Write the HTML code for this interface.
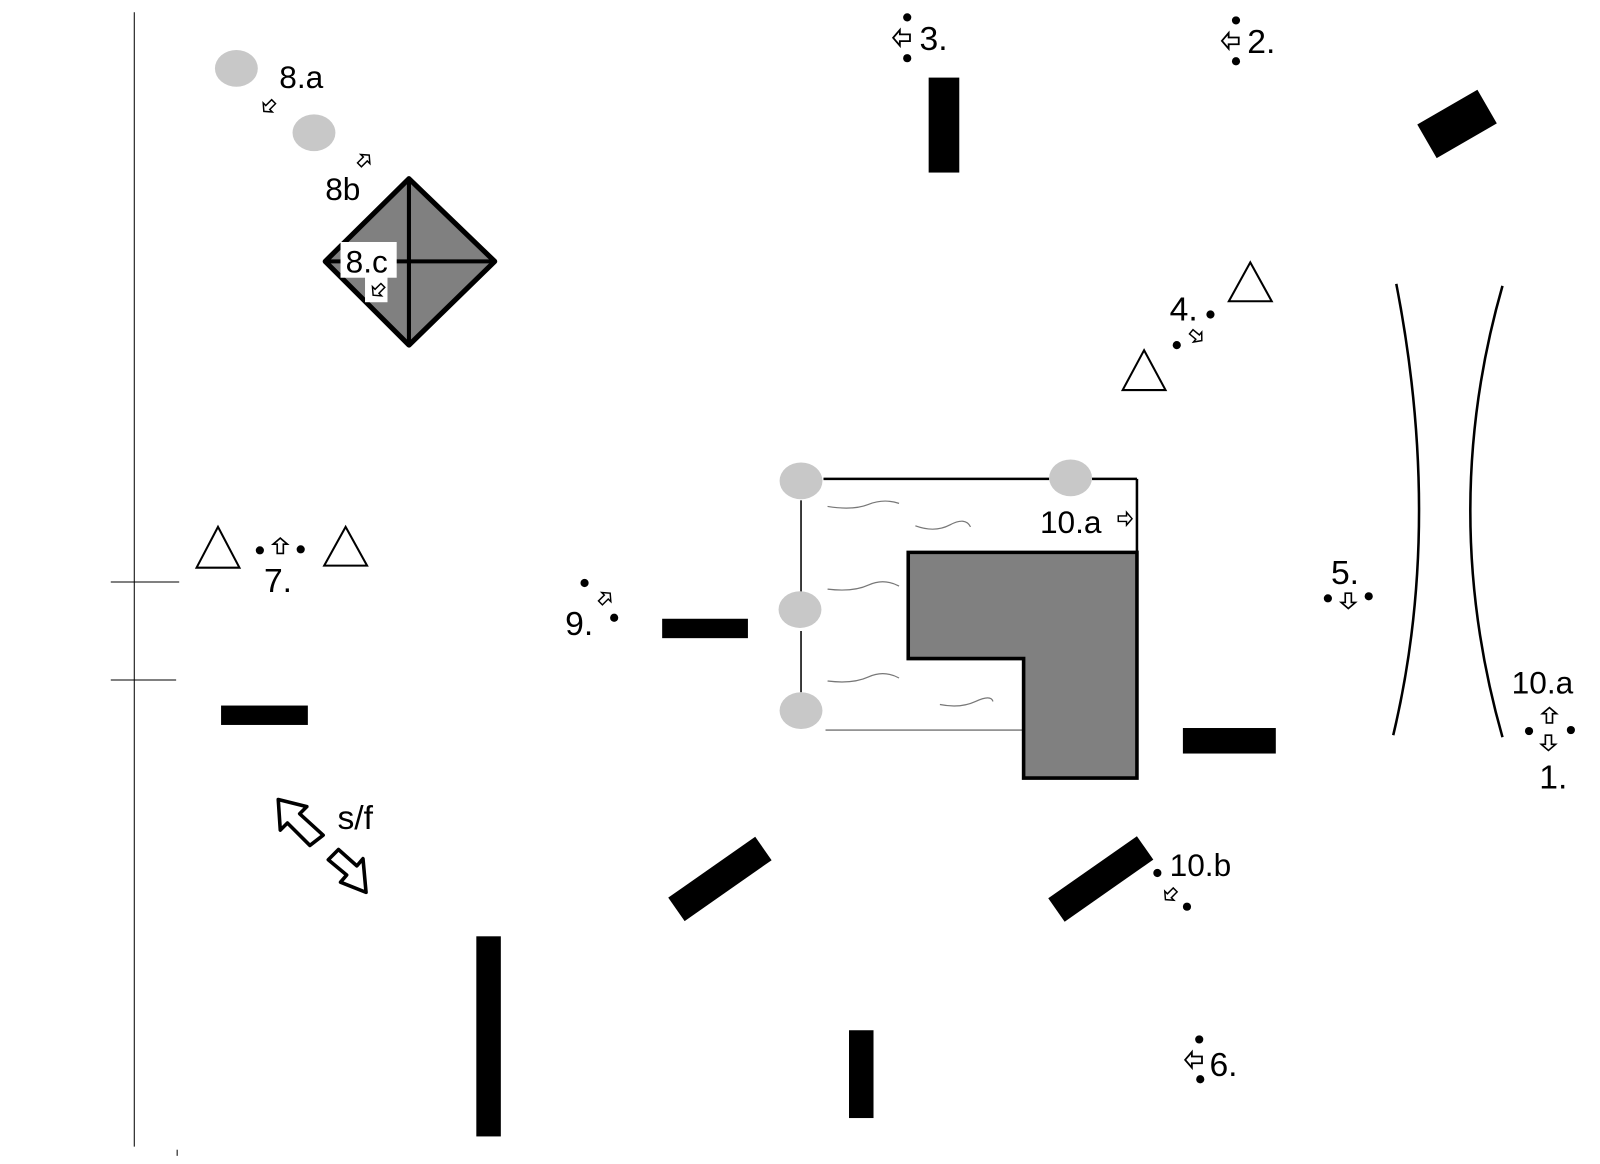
<!DOCTYPE html>
<html><head><meta charset="utf-8"><style>
html,body{margin:0;padding:0;background:#fff;}
svg{display:block;}
text{font-family:"Liberation Sans",sans-serif;fill:#000;}
</style></head><body>
<svg width="1600" height="1164" viewBox="0 0 1566 1140" xmlns="http://www.w3.org/2000/svg">
<defs>
<g id="ar"><path d="M-7,-3 L2,-3 L2,-7 L8,0 L2,7 L2,3 L-7,3 Z" fill="#fff" stroke="#000" stroke-width="1.6"/></g>
</defs>
<rect width="1566" height="1140" fill="#fff"/>
<line x1="131" y1="12" x2="131" y2="1123" stroke="#000" stroke-width="1"/>
<line x1="108" y1="570" x2="175" y2="570" stroke="#000" stroke-width="1"/>
<line x1="108" y1="666" x2="172" y2="666" stroke="#000" stroke-width="1"/>
<line x1="173" y1="1126" x2="173" y2="1132" stroke="#000" stroke-width="1"/>

<ellipse cx="231" cy="67" rx="21" ry="18" fill="#c8c8c8"/>
<ellipse cx="307" cy="130" rx="21" ry="18" fill="#c8c8c8"/>
<text x="273" y="86" font-size="31">8.a</text>
<use href="#ar" transform="translate(263,104) rotate(135) scale(0.9)"/>
<use href="#ar" transform="translate(356,157) rotate(-45) scale(0.9)"/>
<text x="318" y="196" font-size="31">8b</text>
<polygon points="400,175 484,256 400,338 318,256" fill="#808080" stroke="#000" stroke-width="5" stroke-linejoin="round"/>
<line x1="400" y1="175" x2="400" y2="338" stroke="#000" stroke-width="4"/>
<line x1="318" y1="256" x2="484" y2="256" stroke="#000" stroke-width="4"/>
<rect x="333" y="237" width="55" height="35" fill="#fff"/>
<rect x="357" y="270" width="22" height="26" fill="#fff"/>
<text x="338" y="267" font-size="31">8.c</text>
<use href="#ar" transform="translate(370,284) rotate(135) scale(0.9)"/>

<circle cx="888" cy="17" r="4"/><circle cx="888" cy="57" r="4"/>
<use href="#ar" transform="translate(883,37) rotate(180) scale(1.1)"/>
<text x="900" y="49" font-size="33">3.</text>
<circle cx="1210" cy="20" r="4"/><circle cx="1210" cy="60" r="4"/>
<use href="#ar" transform="translate(1205,40) rotate(180) scale(1.1)"/>
<text x="1221" y="52" font-size="33">2.</text>
<rect x="909" y="76" width="30" height="93" fill="#000"/>
<rect x="1394" y="102" width="68" height="38" fill="#000" transform="rotate(-30 1428 124)"/>

<polygon points="1224,257 1245,295 1203,295" fill="#fff" stroke="#000" stroke-width="2"/>
<polygon points="1120,343 1141,382 1099,382" fill="#fff" stroke="#000" stroke-width="2"/>
<text x="1145" y="314" font-size="33">4.</text>
<circle cx="1185" cy="308" r="4"/><circle cx="1152" cy="338" r="4"/>
<use href="#ar" transform="translate(1171,329) rotate(40) scale(0.9)"/>

<path d="M1367,278 Q1413,515 1364,720" fill="none" stroke="#000" stroke-width="2.5"/>
<path d="M1471,280 Q1408,500 1471,722" fill="none" stroke="#000" stroke-width="2.5"/>
<text x="1303" y="572" font-size="33">5.</text>
<circle cx="1300" cy="586" r="4"/><circle cx="1340" cy="584" r="4"/>
<use href="#ar" transform="translate(1320,588) rotate(90) scale(1)"/>
<text x="1480" y="679" font-size="31">10.a</text>
<circle cx="1497" cy="716" r="4"/><circle cx="1538" cy="715" r="4"/>
<use href="#ar" transform="translate(1517,701) rotate(-90) scale(1)"/>
<use href="#ar" transform="translate(1516,727) rotate(90) scale(1)"/>
<text x="1507" y="772" font-size="33">1.</text>

<line x1="806" y1="469" x2="1027" y2="469" stroke="#000" stroke-width="2.5"/>
<line x1="1069" y1="469" x2="1113" y2="469" stroke="#000" stroke-width="2.5"/>
<line x1="1113" y1="469" x2="1113" y2="540" stroke="#000" stroke-width="2.5"/>
<line x1="784" y1="490" x2="784" y2="580" stroke="#000" stroke-width="1.5"/>
<line x1="784" y1="618" x2="784" y2="678" stroke="#000" stroke-width="1.5"/>
<line x1="808" y1="715" x2="1002" y2="715" stroke="#555" stroke-width="1.2"/>
<ellipse cx="784" cy="471" rx="21" ry="18" fill="#c8c8c8"/>
<ellipse cx="1048" cy="468" rx="21" ry="18" fill="#c8c8c8"/>
<ellipse cx="783" cy="597" rx="21" ry="18" fill="#c8c8c8"/>
<ellipse cx="784" cy="696" rx="21" ry="18" fill="#c8c8c8"/>
<g fill="none" stroke="#777" stroke-width="1.2">
<path d="M810,496 Q835,500 850,494 T880,493"/>
<path d="M896,515 Q915,522 930,514 T950,516"/>
<path d="M810,577 Q835,580 850,573 T880,574"/>
<path d="M810,667 Q835,670 850,663 T880,664"/>
<path d="M920,690 Q940,694 955,687 T972,687"/>
</g>
<polygon points="889,541 1113,541 1113,762 1002,762 1002,645 889,645" fill="#808080" stroke="#000" stroke-width="3.5"/>
<text x="1018" y="522" font-size="31">10.a</text>
<use href="#ar" transform="translate(1101,508) scale(0.9)"/>

<rect x="648" y="606" width="84" height="19" fill="#000"/>
<rect x="216" y="691" width="85" height="19" fill="#000"/>
<rect x="1158" y="713" width="91" height="25" fill="#000"/>
<rect x="652" y="847" width="104" height="28" fill="#000" transform="rotate(-35 704 860)"/>
<rect x="1024" y="847" width="106" height="28" fill="#000" transform="rotate(-35 1077 860)"/>
<rect x="466" y="917" width="24" height="196" fill="#000"/>
<rect x="831" y="1009" width="24" height="86" fill="#000"/>

<polygon points="213,516 234,556 192,556" fill="#fff" stroke="#000" stroke-width="2"/>
<polygon points="338,516 359,554 317,554" fill="#fff" stroke="#000" stroke-width="2"/>
<circle cx="254" cy="539" r="4"/><circle cx="294" cy="538" r="4"/>
<use href="#ar" transform="translate(274,535) rotate(-90) scale(1)"/>
<text x="258" y="580" font-size="33">7.</text>

<circle cx="572" cy="571" r="4"/><circle cx="601" cy="605" r="4"/>
<use href="#ar" transform="translate(592,586) rotate(-45) scale(0.9)"/>
<text x="553" y="622" font-size="33">9.</text>

<path d="M272,783 L300,790 L293,797 L316,818 L303,828 L281,806 L274,813 Z" fill="#fff" stroke="#000" stroke-width="3.5" stroke-linejoin="round"/>
<path d="M358,874 L333,864 L339,857 L321,842 L331,832 L349,848 L355,841 Z" fill="#fff" stroke="#000" stroke-width="3.5" stroke-linejoin="round"/>
<text x="330" y="812" font-size="33">s/f</text>

<circle cx="1133" cy="855" r="4"/><circle cx="1162" cy="888" r="4"/>
<text x="1145" y="858" font-size="31">10.b</text>
<use href="#ar" transform="translate(1146,876) rotate(135) scale(0.9)"/>

<circle cx="1174" cy="1018" r="4"/><circle cx="1175" cy="1057" r="4"/>
<use href="#ar" transform="translate(1169,1038) rotate(180) scale(1.1)"/>
<text x="1184" y="1054" font-size="33">6.</text>
</svg>
</body></html>
